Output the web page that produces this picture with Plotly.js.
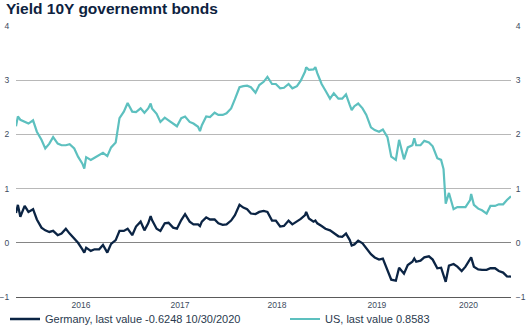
<!DOCTYPE html>
<html>
<head>
<meta charset="utf-8">
<script src="https://cdn.plot.ly/plotly-3.0.1.min.js"></script>
<style>
html,body{margin:0;padding:0;background:#fff;}
#chart{width:526px;height:336px;}
</style>
</head>
<body>
<div id="chart"></div>
<script>
const chartTitle = 'Yield 10Y governemnt bonds';

const dates = [
'2015-10-30','2015-11-06','2015-11-15','2015-12-01','2015-12-15',
'2016-01-01','2016-01-15','2016-02-01','2016-02-15','2016-03-01','2016-03-15',
'2016-04-01','2016-04-15','2016-05-01','2016-05-15','2016-06-01','2016-06-15',
'2016-07-01','2016-07-08','2016-07-15','2016-08-01','2016-08-15','2016-09-01','2016-09-15',
'2016-10-01','2016-10-15','2016-11-01','2016-11-15','2016-12-01','2016-12-15',
'2017-01-01','2017-01-15','2017-02-01','2017-02-15','2017-03-01','2017-03-10','2017-03-15',
'2017-04-01','2017-04-15','2017-05-01','2017-05-15','2017-06-01','2017-06-15',
'2017-07-01','2017-07-15','2017-08-01','2017-08-15','2017-09-01','2017-09-08','2017-09-15',
'2017-10-01','2017-10-15','2017-11-01','2017-11-15','2017-12-01','2017-12-15',
'2018-01-01','2018-01-15','2018-02-01','2018-02-15','2018-03-01','2018-03-15',
'2018-04-01','2018-04-15','2018-05-01','2018-05-15','2018-06-01','2018-06-15',
'2018-07-01','2018-07-15','2018-08-01','2018-08-15','2018-09-01','2018-09-15',
'2018-10-01','2018-10-05','2018-10-15','2018-11-01','2018-11-08','2018-11-15','2018-12-01','2018-12-15',
'2019-01-01','2019-01-15','2019-02-01','2019-02-15','2019-03-01','2019-03-15','2019-03-22',
'2019-04-01','2019-04-15','2019-05-01','2019-05-15','2019-06-01','2019-06-15',
'2019-07-01','2019-07-15','2019-08-01','2019-08-15','2019-09-01','2019-09-13',
'2019-10-01','2019-10-15','2019-11-01','2019-11-08','2019-11-15','2019-12-01','2019-12-15',
'2020-01-01','2020-01-15','2020-02-01','2020-02-15','2020-02-24','2020-03-03','2020-03-15',
'2020-04-01','2020-04-15','2020-05-01','2020-05-15','2020-06-01','2020-06-05','2020-06-15',
'2020-07-01','2020-07-15','2020-08-01','2020-08-15','2020-09-01','2020-09-15',
'2020-10-01','2020-10-15','2020-10-30'
];

const germany = [
0.55,0.70,0.48,0.68,0.57,
0.62,0.43,0.28,0.23,0.20,0.22,
0.14,0.17,0.26,0.17,0.08,0.00,
-0.12,-0.18,-0.09,-0.15,-0.12,-0.12,-0.04,
-0.18,-0.02,0.05,0.22,0.22,0.26,
0.14,0.30,0.39,0.23,0.36,0.49,0.42,
0.26,0.22,0.36,0.37,0.28,0.26,
0.42,0.53,0.39,0.34,0.34,0.31,0.39,
0.47,0.43,0.43,0.36,0.33,0.34,
0.41,0.51,0.70,0.65,0.62,0.54,
0.53,0.57,0.59,0.57,0.41,0.41,
0.30,0.31,0.41,0.34,0.39,0.44,
0.51,0.57,0.45,0.39,0.41,0.36,0.31,0.26,
0.23,0.18,0.12,0.11,0.17,0.05,-0.05,
-0.03,0.04,-0.01,-0.10,-0.21,-0.27,
-0.31,-0.29,-0.50,-0.68,-0.70,-0.46,
-0.57,-0.41,-0.35,-0.29,-0.35,-0.33,-0.27,
-0.25,-0.31,-0.47,-0.46,-0.60,-0.72,-0.42,
-0.39,-0.44,-0.52,-0.44,-0.32,-0.27,-0.44,
-0.49,-0.50,-0.50,-0.47,-0.47,-0.52,
-0.55,-0.62,-0.6248
];

const us = [
2.15,2.33,2.27,2.24,2.20,
2.26,2.05,1.90,1.74,1.83,1.95,
1.83,1.80,1.80,1.82,1.74,1.59,
1.46,1.37,1.58,1.53,1.57,1.62,1.66,
1.60,1.76,1.85,2.30,2.42,2.58,
2.42,2.41,2.48,2.40,2.48,2.57,2.48,
2.38,2.23,2.31,2.26,2.19,2.15,
2.30,2.33,2.23,2.20,2.14,2.06,2.17,
2.33,2.32,2.40,2.36,2.36,2.39,
2.48,2.65,2.87,2.89,2.90,2.87,
2.77,2.91,2.97,3.06,2.93,2.93,
2.85,2.86,2.93,2.85,2.89,2.99,
3.16,3.24,3.19,3.20,3.24,3.13,2.93,2.81,
2.66,2.76,2.66,2.66,2.74,2.54,2.45,
2.52,2.57,2.48,2.36,2.13,2.08,
2.05,2.09,1.95,1.59,1.53,1.90,
1.54,1.76,1.80,1.93,1.80,1.80,1.88,
1.85,1.78,1.56,1.53,1.36,0.72,0.92,
0.62,0.66,0.66,0.66,0.79,0.90,0.70,
0.63,0.60,0.54,0.68,0.68,0.71,
0.71,0.79,0.8583
];

const seriesNames = ['Germany, last value -0.6248 10/30/2020', 'US, last value 0.8583'];
const yTicks = [-1, 0, 1, 2, 3, 4];
const yearTickDates = ['2016-06-26','2017-06-26','2018-06-19','2019-06-23','2020-05-26'];
const yearTickText = ['2016','2017','2018','2019','2020'];

const navy = '#0b2444';
const teal = '#5dc0bf';
const tickColor = '#3d4b5e';
const fontFam = '"Liberation Sans", Arial, Helvetica, sans-serif';

const traces = [
  {x: dates, y: germany, type: 'scatter', mode: 'lines', name: seriesNames[0],
   line: {color: navy, width: 2.3}, legend: 'legend'},
  {x: dates, y: us, type: 'scatter', mode: 'lines', name: seriesNames[1], yaxis: 'y2',
   line: {color: teal, width: 2.2}, legend: 'legend2'}
];

const legendFont = {size: 11, color: '#2a3a4e', family: fontFam};
const layout = {
  width: 526, height: 336,
  margin: {l: 16, r: 15, t: 26, b: 39, autoexpand: false},
  paper_bgcolor: '#ffffff', plot_bgcolor: '#ffffff',
  font: {family: fontFam, color: tickColor},
  title: {text: chartTitle, x: 6/526, xref: 'container', xanchor: 'left',
          y: 1 - 8.5/336, yref: 'container', yanchor: 'middle',
          font: {family: fontFam, size: 15.5, color: '#0d2240', weight: 'bold'}},
  showlegend: true,
  legend: {orientation: 'h', x: 5/526, xref: 'container', xanchor: 'left',
           y: 17/336, yref: 'container', yanchor: 'middle',
           font: legendFont, itemwidth: 30, bgcolor: 'rgba(0,0,0,0)'},
  legend2: {orientation: 'h', x: 285/526, xref: 'container', xanchor: 'left',
           y: 17/336, yref: 'container', yanchor: 'middle',
           font: legendFont, itemwidth: 30, bgcolor: 'rgba(0,0,0,0)'},
  xaxis: {type: 'date', range: [dates[0], dates[dates.length-1]],
          tickmode: 'array', tickvals: yearTickDates, ticktext: yearTickText,
          showgrid: false, zeroline: false, showline: true, linecolor: '#5a5a5a', linewidth: 1,
          ticks: '', tickfont: {size: 8.5, color: tickColor}},
  yaxis: {range: [-1, 4], tickmode: 'array', tickvals: yTicks,
          showgrid: true, gridcolor: '#b8b8b8', gridwidth: 1,
          zeroline: true, zerolinecolor: '#858585', zerolinewidth: 1,
          ticks: 'outside', ticklen: 4, tickcolor: 'rgba(0,0,0,0)',
          tickfont: {size: 8.5, color: tickColor}},
  yaxis2: {range: [-1, 4], overlaying: 'y', side: 'right', anchor: 'x',
           tickmode: 'array', tickvals: yTicks, showgrid: false, zeroline: false,
           ticks: 'outside', ticklen: 2, tickcolor: 'rgba(0,0,0,0)',
           tickfont: {size: 8.5, color: tickColor}}
};

Plotly.newPlot('chart', traces, layout, {displayModeBar: false, staticPlot: true});
</script>
</body>
</html>
